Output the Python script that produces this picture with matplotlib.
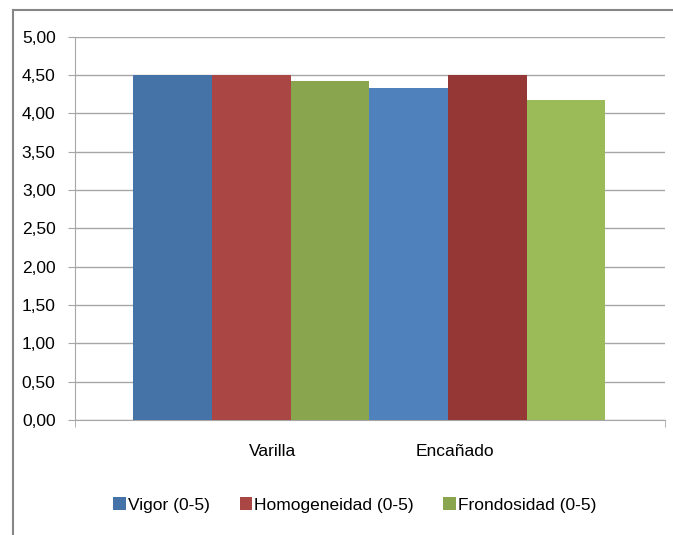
import numpy as np
import matplotlib
matplotlib.use('Agg')
import matplotlib.pyplot as plt
from matplotlib.ticker import FuncFormatter, MultipleLocator
from matplotlib.patches import Patch
from matplotlib.lines import Line2D

plt.rcParams['font.family'] = ['Liberation Sans', 'DejaVu Sans']

# data
categories = ['Varilla', 'Encañado']
series = ['Vigor (0-5)', 'Homogeneidad (0-5)', 'Frondosidad (0-5)']
vigor = [4.50, 4.33]
homogeneidad = [4.50, 4.50]
frondosidad = [4.42, 4.17]
values = [vigor, homogeneidad, frondosidad]

# colours: first group / second group (the Excel chart shades them differently)
colors_varilla = ['#4572A7', '#AA4643', '#89A54E']
colors_encanado = ['#4F81BD', '#953735', '#9BBB59']

fig = plt.figure(figsize=(6.73, 5.35), dpi=100)
W, H = 673, 535
ax = fig.add_axes([75 / W, (H - 420) / H, (665 - 75) / W, (420 - 36.7) / H])

x = np.arange(len(categories))
w = 1 / 3
for i, vals in enumerate(values):
    cols = [colors_varilla[i], colors_encanado[i]]
    ax.bar(x + (i - 1) * w, vals, width=w, color=cols, zorder=3)

ax.set_ylim(0, 5)
ax.set_xlim(-0.747, 1.753)
ax.yaxis.set_major_locator(MultipleLocator(0.5))
ax.yaxis.set_major_formatter(FuncFormatter(lambda v, p: f'{v:.2f}'.replace('.', ',')))
ax.grid(axis='y', color='#A6A6A6', linewidth=1, zorder=0)

# category labels sit a bit off the group centres, as in the picture
ax.set_xticks([0.088, 0.864])
ax.set_xticklabels(categories)
ax.tick_params(axis='x', length=0, pad=17, labelsize=12.5, colors='#000000')
ax.set_xticks([-0.747, 1.753], minor=True)
ax.tick_params(axis='x', which='minor', length=5, color='#A6A6A6', direction='out')
ax.tick_params(axis='y', length=5, color='#A6A6A6', pad=9, labelsize=12.5)

for s in ['top', 'right']:
    ax.spines[s].set_visible(False)
for s in ['left', 'bottom']:
    ax.spines[s].set_color('#A6A6A6')

# chart border (cut off at right and bottom)
fig.add_artist(Line2D([13 / W, 13 / W], [0, (H - 10) / H], color='#868686', linewidth=1.5))
fig.add_artist(Line2D([13 / W, 1], [(H - 10) / H, (H - 10) / H], color='#868686', linewidth=1.5))

handles = [Patch(facecolor=c) for c in colors_varilla]
fig.legend(handles, series, loc='center', bbox_to_anchor=(355 / W, (H - 505) / H),
           ncol=3, frameon=False, fontsize=12.5, handlelength=0.7, handleheight=0.7,
           handletextpad=0.15, columnspacing=1.7)

fig.savefig('out.png', dpi=100)
